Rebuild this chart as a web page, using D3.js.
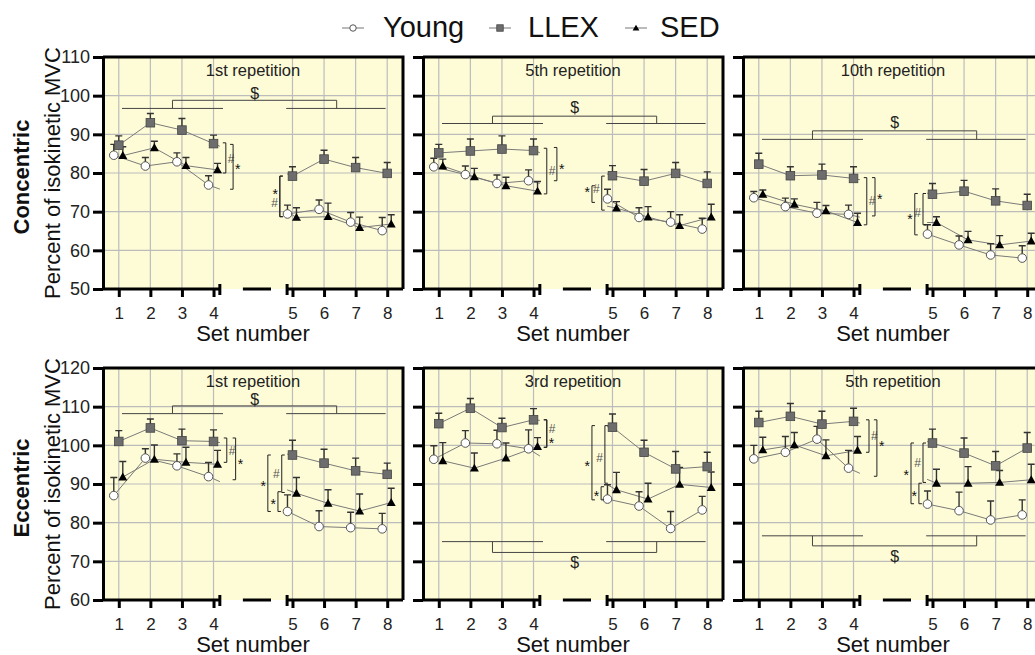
<!DOCTYPE html>
<html>
<head>
<meta charset="utf-8">
<script src="https://cdn.jsdelivr.net/npm/d3@7"></script>
<style>
  body { margin: 0; background: #fff; }
  svg { display: block; font-family: "Liberation Sans", Arial, sans-serif; }
</style>
</head>
<body>
<svg id="chart" width="1035" height="655"></svg>
<script>
var setLabels = ["1", "2", "3", "4", "5", "6", "7", "8"]
// sets 5-8 sit after the axis break
var setPos = [1, 2, 3, 4, 6.5, 7.5, 8.5, 9.5]
var panelTitles = ["1st repetition", "5th repetition", "10th repetition", "1st repetition", "3rd repetition", "5th repetition"]
var rowLabels = ["Concentric", "Eccentric"]
var yDomains = [[50, 110], [60, 120]]
var seriesNames = ["Young", "LLEX", "SED"]

// one row per panel: conc 1st, 5th, 10th, ecc 1st, 3rd, 5th
var youngMean = [
  [84.6, 81.8, 82.9, 76.9, 69.4, 70.6, 67.3, 65.1],
  [81.6, 79.6, 77.3, 78.0, 73.3, 68.5, 67.3, 65.5],
  [73.6, 71.3, 69.6, 69.3, 64.2, 61.4, 58.8, 58.0],
  [87.0, 96.7, 94.7, 91.9, 82.9, 79.0, 78.7, 78.4],
  [96.4, 100.6, 100.4, 99.1, 86.1, 84.3, 78.5, 83.3],
  [96.5, 98.2, 101.6, 94.1, 84.8, 83.1, 80.7, 82.0]
]
var youngSem = [
  [2.8, 2.2, 2.3, 2.4, 2.3, 2.4, 2.5, 3.4],
  [2.2, 2.2, 2.2, 2.8, 2.5, 2.5, 2.7, 2.8],
  [1.6, 2.2, 2.8, 2.4, 2.4, 2.3, 2.9, 3.2],
  [4.7, 2.4, 3.1, 3.7, 4.3, 4.1, 4.0, 4.0],
  [3.5, 3.2, 3.5, 4.9, 3.7, 3.7, 4.4, 3.5],
  [3.5, 4.1, 3.3, 4.6, 3.4, 4.8, 4.9, 3.9]
]
var llexMean = [
  [87.2, 93.0, 91.1, 87.6, 79.2, 83.6, 81.4, 79.9],
  [85.2, 85.7, 86.2, 85.8, 79.3, 77.9, 79.9, 77.3],
  [82.3, 79.3, 79.5, 78.6, 74.5, 75.3, 72.8, 71.6],
  [101.0, 104.5, 101.2, 101.0, 97.5, 95.4, 93.4, 92.5],
  [105.6, 109.6, 104.6, 106.6, 104.7, 98.2, 93.9, 94.5],
  [105.9, 107.5, 105.5, 106.2, 100.6, 98.0, 94.7, 99.3]
]
var llexSem = [
  [2.4, 2.4, 3.0, 2.2, 2.4, 2.3, 2.6, 2.8],
  [2.2, 3.1, 3.4, 3.0, 2.6, 3.0, 2.8, 3.0],
  [2.8, 2.3, 2.8, 3.0, 2.8, 2.8, 3.1, 2.9],
  [2.8, 2.3, 3.0, 3.0, 3.8, 3.6, 3.3, 2.9],
  [2.7, 2.5, 2.4, 2.9, 3.4, 3.1, 4.5, 3.7],
  [2.9, 3.3, 3.3, 3.4, 3.6, 3.9, 3.7, 4.0]
]
var sedMean = [
  [84.5, 86.5, 81.9, 80.8, 68.5, 68.7, 65.9, 66.8],
  [81.8, 79.0, 76.7, 75.3, 70.9, 68.6, 66.4, 68.6],
  [74.5, 71.9, 70.2, 67.2, 67.2, 62.7, 61.4, 62.4],
  [91.8, 96.4, 95.6, 95.1, 87.6, 85.0, 83.0, 85.2],
  [96.0, 94.1, 96.7, 99.7, 88.5, 86.1, 89.9, 89.1],
  [98.8, 100.1, 97.3, 98.7, 90.2, 90.2, 90.4, 91.1]
]
var sedSem = [
  [2.3, 1.7, 2.1, 1.7, 2.5, 3.5, 2.7, 2.4],
  [1.8, 2.2, 2.2, 2.5, 1.7, 2.7, 2.8, 3.3],
  [1.1, 1.4, 1.4, 2.4, 1.5, 2.2, 2.4, 2.0],
  [4.0, 3.7, 3.9, 3.6, 4.1, 3.5, 4.4, 3.7],
  [4.7, 3.9, 3.9, 2.3, 4.5, 4.1, 4.4, 4.0],
  [3.3, 3.2, 4.1, 3.6, 3.6, 4.3, 3.1, 4.0]
]

// "$" comparison of sets 1-4 vs 5-8 (y of the two bars, the bracket and the label)
var dollarLineY = [96.7, 92.8, 88.7, 108.2, 75.1, 76.6]
var dollarBracketY = [98.8, 94.7, 90.9, 110.2, 72.3, 74.0]
var dollarLabelY = [100.6, 97.0, 93.2, 112.0, 69.8, 71.3]

// [panel, x, y1, y2, side, label, labelY]
var sigBrackets = [
  [0, 4.39, 87.8, 80.0, "]", "#", 83.8], [0, 4.62, 87.4, 75.8, "]", "*", 81.8],
  [0, 6.1, 79.2, 68.7, "[", "*", 75.2], [0, 6.1, 79.2, 68.7, "[", "#", 72.2],
  [1, 4.42, 86.4, 74.6, "]", "#", 80.6], [1, 4.74, 86.6, 78.0, "]", "*", 81.8],
  [1, 5.85, 76.7, 72.4, "[", "*", 75.9], [1, 6.16, 79.2, 70.4, "[", "#", 75.9],
  [2, 4.42, 78.8, 66.6, "]", "#", 72.8], [2, 4.68, 78.8, 68.9, "]", "*", 73.9],
  [2, 5.94, 74.7, 64.0, "[", "*", 68.9], [2, 6.2, 74.7, 66.6, "[", "#", 69.8],
  [3, 4.42, 101.9, 95.6, "]", "#", 98.7], [3, 4.7, 101.9, 91.1, "]", "*", 96.0],
  [3, 5.72, 97.5, 82.9, "[", "*", 90.2], [3, 6.16, 97.5, 87.8, "[", "#", 92.6],
  [3, 6.04, 88.0, 82.9, "[", "*", 85.5],
  [4, 4.42, 106.6, 99.5, "]", "#", 104.2], [4, 4.42, 106.6, 99.5, "]", "*", 101.4],
  [4, 5.85, 105.1, 85.9, "[", "*", 95.4], [4, 6.26, 105.1, 90.2, "[", "#", 96.7],
  [4, 6.14, 89.3, 85.9, "[", "*", 87.6],
  [5, 4.49, 106.6, 98.2, "]", "#", 102.5], [5, 4.74, 106.6, 92.0, "]", "*", 100.6],
  [5, 5.82, 100.6, 84.9, "[", "*", 93.0], [5, 6.2, 100.6, 90.4, "[", "#", 95.4],
  [5, 6.07, 90.2, 84.9, "[", "*", 87.6]
]

var dims = {
  left: [103, 423, 743],
  top: [57, 368],
  width: 300,
  height: 232
}

var svg = d3.select("#chart")

var x = d3.scaleLinear()
  .domain([0.5, 10])
  .range([0, dims.width])

// axis break
var segEnd = 4.2, dashFrom = 4.93, dashTo = 5.82, segStart = 6.33

var means = [youngMean, llexMean, sedMean]
var sems = [youngSem, llexSem, sedSem]
var offsets = [-5, 0, 4]

function marker(sel, name, s){
  if(name == "Young"){
    sel.append("circle").attr("r", 4.3 * s)
      .attr("fill", "#fff").attr("stroke", "#555").attr("stroke-width", 1)
  } else if(name == "LLEX"){
    sel.append("rect").attr("x", -4.3 * s).attr("y", -4.3 * s)
      .attr("width", 8.6 * s).attr("height", 8.6 * s)
      .attr("fill", "#6d6d6d").attr("stroke", "#444").attr("stroke-width", 0.8)
  } else {
    sel.append("path")
      .attr("d", `M0,${-4.5 * s}L${4.5 * s},${3.4 * s}L${-4.5 * s},${3.4 * s}Z`)
      .attr("fill", "#000")
  }
}

for(var p = 0; p < 6; p++){
  var row = Math.floor(p / 3), col = p % 3
  var g = svg.append("g")
    .attr("transform", `translate(${dims.left[col]},${dims.top[row]})`)

  var y = d3.scaleLinear()
    .domain(yDomains[row])
    .range([dims.height, 0])
  var yTicks = d3.range(yDomains[row][0], yDomains[row][1] + 1, 10)

  g.append("rect")
    .attr("width", dims.width)
    .attr("height", dims.height)
    .attr("fill", "#fefcd6")

  // grid
  g.selectAll(".vgrid")
    .data(setPos)
    .enter()
    .append("line")
      .attr("x1", d => x(d)).attr("x2", d => x(d))
      .attr("y1", 0).attr("y2", dims.height)
      .attr("stroke", "#bcbcbc").attr("stroke-width", 1.2)
  g.selectAll(".hgrid")
    .data(yTicks.slice(1, -1))
    .enter()
    .append("line")
      .attr("x1", 0).attr("x2", dims.width)
      .attr("y1", d => y(d)).attr("y2", d => y(d))
      .attr("stroke", "#bcbcbc").attr("stroke-width", 1.2)

  g.append("text")
    .attr("x", dims.width / 2)
    .attr("y", 19)
    .attr("text-anchor", "middle")
    .style("font-size", "16.5px")
    .attr("fill", "#222")
    .text(panelTitles[p])

  // connecting lines are hidden inside the axis break
  var clip = g.append("clipPath").attr("id", "clip" + p)
  clip.append("rect").attr("x", 0).attr("y", 0).attr("width", x(segEnd)).attr("height", dims.height)
  clip.append("rect").attr("x", x(segStart)).attr("y", 0)
    .attr("width", dims.width - x(segStart)).attr("height", dims.height)

  // dollar bracket
  var dc = "#444"
  g.append("line")
    .attr("x1", x(1.1)).attr("x2", x(4.3))
    .attr("y1", y(dollarLineY[p])).attr("y2", y(dollarLineY[p]))
    .attr("stroke", dc)
  g.append("line")
    .attr("x1", x(6.3)).attr("x2", x(9.45))
    .attr("y1", y(dollarLineY[p])).attr("y2", y(dollarLineY[p]))
    .attr("stroke", dc)
  g.append("path")
    .attr("d", `M${x(2.7)},${y(dollarLineY[p])}V${y(dollarBracketY[p])}H${x(7.9)}V${y(dollarLineY[p])}`)
    .attr("fill", "none")
    .attr("stroke", dc)
  g.append("text")
    .attr("x", x(5.3))
    .attr("y", y(dollarLabelY[p]))
    .attr("dy", "0.36em")
    .attr("text-anchor", "middle")
    .style("font-size", "16px")
    .attr("fill", "#222")
    .text("$")

  // series
  for(var s = 0; s < 3; s++){
    var off = offsets[s]
    var line = d3.line()
      .x((d, i) => x(setPos[i]) + off)
      .y(d => y(d))
    g.append("path")
      .datum(means[s][p])
      .attr("d", line)
      .attr("fill", "none")
      .attr("stroke", "#7a7a7a")
      .attr("stroke-width", 1)
      .attr("clip-path", `url(#clip${p})`)
  }
  for(var s = 0; s < 3; s++){
    var off = offsets[s]
    var m = means[s][p], e = sems[s][p]
    g.selectAll(".err" + s)
      .data(m)
      .enter()
      .append("path")
        .attr("d", (d, i) => {
          var cx = x(setPos[i]) + off
          return `M${cx},${y(d)}V${y(d + e[i])}M${cx - 3.5},${y(d + e[i])}H${cx + 3.5}`
        })
        .attr("fill", "none")
        .attr("stroke", "#333")
        .attr("stroke-width", 1.4)
  }
  var order = [0, 2, 1]
  order.forEach(s => {
    var off = offsets[s]
    means[s][p].forEach((d, i) => {
      var mg = g.append("g")
        .attr("transform", `translate(${x(setPos[i]) + off},${y(d)})`)
      marker(mg, seriesNames[s], 1)
    })
  })

  // significance brackets
  sigBrackets.filter(b => b[0] == p).forEach(b => {
    var bx = x(b[1]), arm = b[4] == "]" ? -3 : 3
    g.append("path")
      .attr("d", `M${bx + arm},${y(b[2])}H${bx}V${y(b[3])}H${bx + arm}`)
      .attr("fill", "none")
      .attr("stroke", "#222")
      .attr("stroke-width", 1)
    g.append("text")
      .attr("x", b[4] == "]" ? bx + 2 : bx - 2)
      .attr("y", y(b[6]))
      .attr("dy", b[5] == "*" ? "0.55em" : "0.36em")
      .attr("text-anchor", b[4] == "]" ? "start" : "end")
      .style("font-size", b[5] == "*" ? "14px" : "12px")
      .attr("fill", b[5] == "*" ? "#111" : "#555")
      .text(b[5])
  })

  // frame
  g.append("path")
    .attr("d", `M0,0H${dims.width}V${dims.height}`)
    .attr("fill", "none")
    .attr("stroke", "#000")
    .attr("stroke-width", 3)

  var yAxis = g.append("g")
    .call(d3.axisLeft(y).tickValues(yTicks).tickSize(10).tickSizeOuter(0).tickPadding(3)
      .tickFormat(col == 0 ? d3.format("d") : ""))
  yAxis.select(".domain").attr("stroke-width", 3)
  yAxis.selectAll(".tick line").attr("stroke-width", 3)
  yAxis.selectAll("text").style("font-size", "18px").attr("fill", "#222")
    .attr("font-family", "Liberation Sans, Arial, sans-serif")

  var xAxis = g.append("g")
    .attr("transform", `translate(0,${dims.height})`)
    .call(d3.axisBottom(x).tickValues(setPos).tickSize(8).tickSizeOuter(0).tickPadding(10)
      .tickFormat((d, i) => setLabels[i]))
  xAxis.select(".domain").remove()
  xAxis.selectAll(".tick line").attr("stroke-width", 3)
  xAxis.selectAll("text").style("font-size", "17px").attr("fill", "#222")
    .attr("font-family", "Liberation Sans, Arial, sans-serif")

  xAxis.append("path")
    .attr("d", `M0,0H${x(segEnd)}M${x(segEnd)},-5V6M${x(dashFrom)},0H${x(dashTo)}M${x(segStart)},-5V6M${x(segStart)},0H${dims.width}`)
    .attr("fill", "none")
    .attr("stroke", "#000")
    .attr("stroke-width", 3)

  g.append("text")
    .attr("x", dims.width / 2)
    .attr("y", dims.height + 52)
    .attr("text-anchor", "middle")
    .style("font-size", "22px")
    .attr("fill", "#111")
    .text("Set number")
}

// row labels
for(var r = 0; r < 2; r++){
  var cy = dims.top[r] + dims.height / 2
  svg.append("text")
    .attr("transform", `translate(29,${cy + 4})rotate(-90)`)
    .attr("text-anchor", "middle")
    .style("font-size", "22px")
    .style("font-weight", "bold")
    .attr("fill", "#111")
    .text(rowLabels[r])
  svg.append("text")
    .attr("transform", `translate(60,${cy})rotate(-90)`)
    .attr("text-anchor", "middle")
    .style("font-size", "22px")
    .attr("fill", "#111")
    .text("Percent of isokinetic MVC")
}

// legend
var legendSym = [353, 500, 636]
var legendText = [383, 528, 660]
seriesNames.forEach((name, i) => {
  var lg = svg.append("g").attr("transform", `translate(${legendSym[i]},28)`)
  lg.append("line").attr("x1", -11).attr("x2", 11)
    .attr("stroke", "#777").attr("stroke-width", 1)
  marker(lg, name, 0.75)
  svg.append("text")
    .attr("x", legendText[i])
    .attr("y", 37)
    .style("font-size", "29px")
    .attr("fill", "#111")
    .text(name)
})
</script>
</body>
</html>
